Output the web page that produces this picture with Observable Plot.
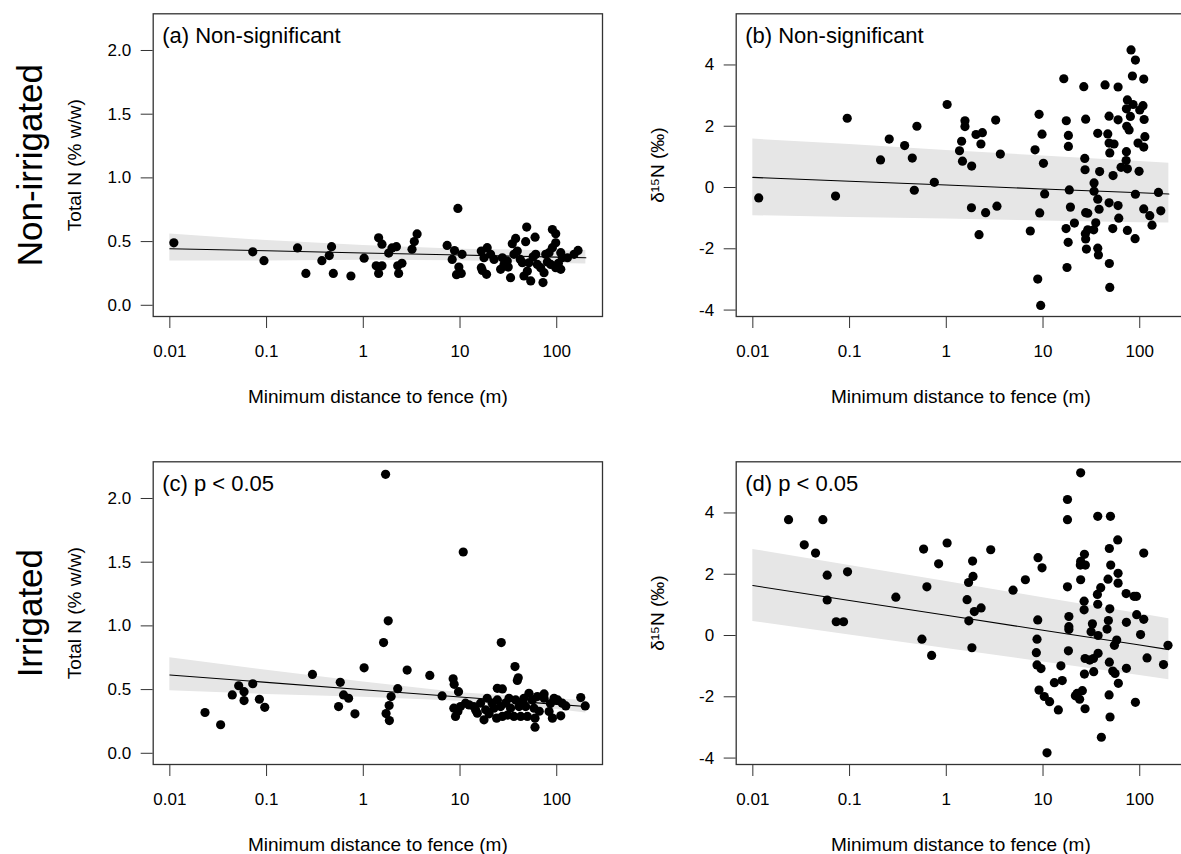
<!DOCTYPE html>
<html><head><meta charset="utf-8">
<script src="https://cdn.jsdelivr.net/npm/d3@7"></script>
<script src="https://cdn.jsdelivr.net/npm/@observablehq/plot@0.6"></script>
<style>
html,body{margin:0;padding:0;background:#fff;overflow:hidden;width:1181px;height:854px}
#wrap{position:relative;width:1181px;height:854px;overflow:hidden;background:#fff}
.panel{position:absolute;width:610px;height:420px}
.panel svg{max-width:none !important;background:transparent}
</style></head><body><div id="wrap"></div>
<script>
// ---- tick labels / axis text ----
const xTicks = [0.01, 0.1, 1, 10, 100];
const nTicks = [0, 0.5, 1, 1.5, 2];
const deltaTicks = [-4, -2, 0, 2, 4];
const xLabel = "Minimum distance to fence (m)";
const nLabel = "Total N (% w/w)";
const deltaLabel = "δ¹⁵N (‰)";
const rowLabels = ["Non-irrigated", "Irrigated"];
const panelTags = ["(a) Non-significant", "(b) Non-significant", "(c) p < 0.05", "(d) p < 0.05"];

// ---- (a) Non-irrigated, Total N ----
const aDist = [0.011,0.072,0.094,0.209,0.255,0.373,0.445,0.47,0.49,0.745,1.02,1.44,1.56,1.36,1.56,1.44,1.83,1.98,2.2,2.27,2.51,2.32,3.19,3.37,3.6,7.36,9.5,8.77,10.5,8.3,9.73,9.2,10.3,
16.6,19.1,17.7,20.7,17.0,18.8,16.6,27.4,28.5,26.3,33.3,30.8,34.7,37.6,39.1,36.1,48.9,47.7,59.7,44.1,49.7,53.8,45.8,51.6,
60.6,63.0,68.2,72.1,73.9,76.9,90.1,97.6,97.6,90.1,83.3,86.7,97.6,110,110,114,129,151,166,22.5,31.5,42.0,57.0,80.0,104];
const aTotalN = [0.49,0.42,0.35,0.45,0.25,0.35,0.39,0.46,0.25,0.23,0.37,0.53,0.48,0.31,0.31,0.25,0.41,0.45,0.46,0.31,0.33,0.25,0.44,0.50,0.56,0.47,0.76,0.43,0.40,0.36,0.30,0.24,0.25,
0.426,0.452,0.373,0.40,0.274,0.243,0.295,0.373,0.321,0.282,0.217,0.347,0.483,0.525,0.426,0.40,0.614,0.499,0.535,0.334,0.269,0.191,0.23,0.334,
0.40,0.321,0.295,0.178,0.256,0.40,0.595,0.561,0.491,0.452,0.413,0.321,0.295,0.282,0.413,0.373,0.373,0.40,0.431,0.36,0.30,0.36,0.38,0.34,0.33];

// ---- (b) Non-irrigated, delta15N ----
const bDist = [0.0115,0.0716,0.0946,0.209,0.257,0.371,0.445,0.497,0.467,0.752,1.02,1.56,1.56,1.44,1.37,1.47,1.83,2.03,2.36,2.28,3.24,3.62,1.82,2.55,3.34,2.18,7.39,9.1,9.77,8.27,10.1,10.4,9.24,8.82,9.46,
16.4,17.4,18.3,18.3,18.7,19.2,21.1,17.3,18.2,17.7,
26.4,27.6,27.0,27.2,38.5,33.7,33.7,36.8,38.0,27.6,29.0,35.1,33.4,29.0,27.4,27.6,28.1,36.8,37.4,48.5,49.0,
43.8,59.7,48.2,59.7,36.8,46.7,48.2,54.2,49.0,53.0,48.2,59.7,60.7,52.6,74.5,89.5,90.2,98.4,
72.8,72.3,74.5,64.1,73.4,77.6,74.5,72.8,80.0,85.3,81.3,90.2,84.0,110,108,100,111,113,96,110,110,127,134,156,165];
const bDelta = [-0.34,-0.28,2.26,0.90,1.58,1.37,0.96,2.0,-0.09,0.17,2.71,2.18,1.99,1.51,1.20,0.86,0.70,1.73,1.79,1.42,2.20,1.09,-0.66,-0.82,-0.61,-1.54,-1.42,2.39,1.74,1.23,0.79,-0.21,-0.83,-2.99,-3.85,
3.55,2.18,1.70,1.34,-0.08,-0.64,-1.16,-1.34,-1.79,-2.61,
3.29,2.23,0.95,0.58,0.52,0.15,-0.12,-0.38,-0.71,-0.82,-0.84,-1.15,-1.38,-1.38,-1.51,-1.68,-2.01,-1.98,-2.2,-2.48,-3.26,
3.35,3.28,2.33,2.21,1.77,1.75,1.45,1.42,1.13,0.39,-0.5,-0.59,-1.0,-1.34,-1.4,-1.67,-0.22,0.53,
1.17,0.88,0.61,0.66,2.0,1.88,2.86,2.57,2.32,2.71,4.49,4.16,3.64,3.54,2.67,2.53,2.22,1.66,1.45,1.32,-0.7,-0.92,-1.23,-0.16,-0.76];

// ---- (c) Irrigated, Total N ----
const cDist = [0.0231,0.0335,0.0442,0.0515,0.0585,0.0585,0.072,0.0843,0.0958,0.298,0.578,0.625,0.705,0.555,0.82,1.02,1.70,1.81,1.62,1.94,1.85,1.72,1.86,2.27,2.84,4.87,6.53,8.49,8.7,9.65,10.8,26.7,37,40,39.1,24.3,27.4,
8.63,8.98,9.5,10.1,11.4,12.4,13.9,15.1,16.3,17.7,18.4,19.1,21.5,22.4,23.9,24.3,26.3,27.4,29.6,32.1,33.3,36.1,37.6,40.7,42.4,45.8,47.7,49.7,51.6,55.9,58.2,59.6,59.6,63,74,74,83.3,90.2,93.8,102,110,114,124,177,197,
14.5,20.0,31.0,44.0,66.0,86.0];
const cTotalN = [0.32,0.224,0.458,0.53,0.484,0.414,0.546,0.424,0.361,0.619,0.557,0.458,0.432,0.367,0.31,0.671,2.19,1.04,0.869,0.445,0.375,0.312,0.257,0.507,0.653,0.611,0.45,0.585,0.541,0.484,1.58,0.869,0.681,0.593,0.572,0.51,0.505,
0.354,0.289,0.328,0.367,0.393,0.38,0.367,0.315,0.393,0.263,0.341,0.432,0.393,0.354,0.276,0.419,0.367,0.289,0.393,0.432,0.354,0.289,0.419,0.367,0.289,0.432,0.367,0.289,0.471,0.419,0.354,0.276,0.205,0.445,0.466,0.432,0.328,0.276,0.432,0.419,0.294,0.393,0.372,0.437,0.372,
0.34,0.31,0.30,0.40,0.33,0.39];

// ---- (d) Irrigated, delta15N ----
const dDist = [0.0234,0.053,0.034,0.0445,0.0587,0.0587,0.0953,0.0728,0.0867,0.301,0.583,0.63,0.56,0.705,0.833,1.02,1.87,1.89,1.70,1.64,1.95,2.29,1.71,1.84,2.88,4.9,6.57,8.88,9.77,8.82,8.67,8.53,8.67,9.53,9.09,10.3,11.7,11.0,13.1,15.8,15.3,14.4,
24.5,17.9,17.9,36.8,49.8,59.2,48.5,26.8,24.5,27.4,24.3,50.1,24.5,17.9,47,59.7,59.7,39.5,36.5,36.8,26.6,26.6,49,72.3,87.3,92.5,110,93,110,72.8,47.4,45.9,102,57.8,54.7,32.4,31.4,37.1,
18.5,18.5,18.5,18.3,27.2,30.4,33.2,37.1,33.4,26.8,48.5,52.6,55.6,60.1,72.8,119,176,196,25.5,22.5,23.9,21.6,27.2,48.2,49.3,90.2,40.1];
const dDelta = [3.78,3.78,2.96,2.69,1.97,1.16,2.08,0.45,0.45,1.25,2.82,1.59,-0.12,-0.65,2.34,3.02,2.43,1.93,1.73,1.17,0.78,0.9,0.48,-0.4,2.8,1.48,1.82,2.54,2.21,0.51,-0.12,-0.56,-0.96,-1.08,-1.78,-1.99,-2.16,-3.83,-1.54,-1.47,-0.99,-2.43,
5.31,4.44,3.78,3.89,3.89,3.12,2.84,2.65,2.42,2.3,2.3,2.3,1.82,1.59,1.84,2.03,1.71,1.56,1.34,1.02,1.12,0.84,0.87,1.37,1.28,1.28,2.69,0.68,0.53,0.43,0.49,0.21,0.03,-0.15,-0.32,0.38,0.12,0.0,
0.62,0.29,0.2,-0.5,-0.75,-0.8,-0.75,-0.58,-1.18,-1.26,-0.87,-1.16,-1.24,-1.56,-1.07,-0.73,-0.95,-0.32,-1.8,-1.89,-2.08,-1.97,-2.39,-1.94,-2.66,-2.18,-3.32];

// ---- fitted regression lines and confidence bands ----
const fitDist = [0.01, 0.1, 1, 10, 100, 200];
const aFit = [0.444, 0.428, 0.411, 0.395, 0.378, 0.373];
const aLower = [0.348, 0.348, 0.353, 0.350, 0.329, 0.324];
const aUpper = [0.560, 0.508, 0.469, 0.440, 0.427, 0.430];
const bFit = [0.33, 0.205, 0.08, -0.046, -0.17, -0.21];
const bLower = [-0.92, -0.976, -1.03, -1.09, -1.15, -1.16];
const bUpper = [1.58, 1.40, 1.21, 1.03, 0.85, 0.79];
const cFit = [0.614, 0.557, 0.499, 0.442, 0.384, 0.367];
const cLower = [0.49, 0.462, 0.44, 0.409, 0.343, 0.317];
const cUpper = [0.75, 0.652, 0.559, 0.475, 0.425, 0.417];
const dFit = [1.63, 1.144, 0.659, 0.173, -0.312, -0.46];
const dLower = [0.46, 0.018, -0.423, -0.865, -1.307, -1.44];
const dUpper = [2.81, 2.284, 1.759, 1.233, 0.707, 0.55];

const xDomain = [Math.pow(10, -2.172), Math.pow(10, 2.473)];
const nDomain = [-0.088, 2.288];
const deltaDomain = [-4.21, 5.67];

const FONT = "'Liberation Sans', Arial, sans-serif";
const W = 610, H = 420;
const ML = 152.7, MR = W - 602, MT = 13.3, MB = H - 316;

function panel(o) {
  const pts = o.dist.map((d, i) => ({d, v: o.val[i]}));
  const band = fitDist.map((d, i) => ({d, fit: o.fit[i], lo: o.lo[i], hi: o.hi[i]}));
  const marks = [
    Plot.areaY(band, {x: "d", y1: "lo", y2: "hi", fill: "#e6e6e6"}),
    Plot.line(band, {x: "d", y: "fit", stroke: "#000", strokeWidth: 1.1}),
    Plot.dot(pts, {x: "d", y: "v", r: 4.6, fill: "#000", stroke: "none"}),
    Plot.frame({stroke: "#333", strokeWidth: 1.3}),
    Plot.axisX({ticks: xTicks, tickFormat: d => String(d), tickSize: 12, tickPadding: 16, fontSize: 17, label: null, stroke: "#333"}),
    Plot.axisY({ticks: o.yTicks, tickFormat: o.yFormat, tickSize: 12, tickPadding: 10, fontSize: 17, label: null, stroke: "#333"}),
    Plot.text([o.tag], {frameAnchor: "top-left", dx: 9, dy: 22.4, textAnchor: "start", lineAnchor: "middle", fontSize: 22, fill: "#000"}),
    Plot.text([xLabel], {frameAnchor: "bottom", dy: 80, textAnchor: "middle", lineAnchor: "middle", fontSize: 19, fill: "#000"}),
    Plot.text([o.yLabel], {frameAnchor: "left", dx: -78, rotate: -90, textAnchor: "middle", lineAnchor: "middle", fontSize: 19, fill: "#000"})
  ];
  if (o.row) marks.push(Plot.text([o.row], {frameAnchor: "left", dx: -122, rotate: -90, textAnchor: "middle", lineAnchor: "middle", fontSize: 35, fill: "#000"}));
  return Plot.plot({
    width: W, height: H,
    marginLeft: ML, marginRight: MR, marginTop: MT, marginBottom: MB,
    style: {fontFamily: FONT, fontSize: "17px", color: "#000", background: "transparent", overflow: "visible", maxWidth: "none"},
    x: {type: "log", domain: xDomain},
    y: {domain: o.yDomain},
    marks
  });
}

const fmtN = d => d.toFixed(1);
const fmtD = d => String(d);
const specs = [
  {left: 0, top: 0, dist: aDist, val: aTotalN, fit: aFit, lo: aLower, hi: aUpper, yDomain: nDomain, yTicks: nTicks, yFormat: fmtN, yLabel: nLabel, tag: panelTags[0], row: rowLabels[0]},
  {left: 583.3, top: 0, dist: bDist, val: bDelta, fit: bFit, lo: bLower, hi: bUpper, yDomain: deltaDomain, yTicks: deltaTicks, yFormat: fmtD, yLabel: deltaLabel, tag: panelTags[1]},
  {left: 0, top: 448.4, dist: cDist, val: cTotalN, fit: cFit, lo: cLower, hi: cUpper, yDomain: nDomain, yTicks: nTicks, yFormat: fmtN, yLabel: nLabel, tag: panelTags[2], row: rowLabels[1]},
  {left: 583.3, top: 448.4, dist: dDist, val: dDelta, fit: dFit, lo: dLower, hi: dUpper, yDomain: deltaDomain, yTicks: deltaTicks, yFormat: fmtD, yLabel: deltaLabel, tag: panelTags[3]}
];
const wrap = document.getElementById("wrap");
for (const s of specs) {
  const div = document.createElement("div");
  div.className = "panel";
  div.style.left = s.left + "px";
  div.style.top = s.top + "px";
  div.appendChild(panel(s));
  wrap.appendChild(div);
}
</script>
</body></html>
